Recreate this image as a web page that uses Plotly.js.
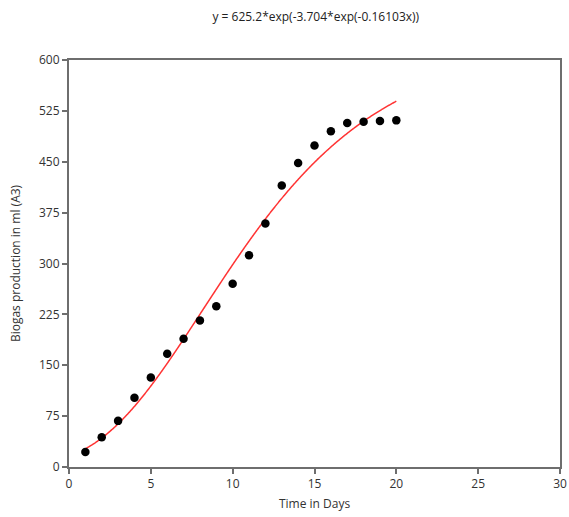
<!DOCTYPE html>
<html><head><meta charset="utf-8">
<script src="https://cdn.plot.ly/plotly-3.0.1.min.js"></script>
<style>html,body{margin:0;padding:0;background:#fff}</style>
</head><body>
<div id="chart" style="width:569px;height:517px"></div>
<script>
const days = [1,2,3,4,5,6,7,8,9,10,11,12,13,14,15,16,17,18,19,20];
const biogas = [22,44,68,102,132,167,189,216,237,270,312,359,415,448,474,495,507,509,510,511];
const fitA = 625.2, fitB = 3.704, fitC = 0.16103;
const fitX = [];
for (let i = 0; i <= 380; i++) fitX.push(1 + i*0.05);
const fitY = fitX.map(x => fitA*Math.exp(-fitB*Math.exp(-fitC*x)));
const xTicks = [0,5,10,15,20,25,30];
const yTicks = [0,75,150,225,300,375,450,525,600];

const font = {family:'"Open Sans", "Noto Sans", sans-serif', size:12, color:'#333'};
Plotly.newPlot('chart', [
  {x: fitX, y: fitY, mode:'lines', line:{color:'#ff3333', width:1.5, shape:'spline'}, hoverinfo:'skip'},
  {x: days, y: biogas, mode:'markers', marker:{color:'#000', size:8.5}}
], {
  width:569, height:517, showlegend:false,
  margin:{l:69, r:9, t:60, b:50},
  paper_bgcolor:'#fff', plot_bgcolor:'#fff', font: font,
  title:{text:'y = 625.2*exp(-3.704*exp(-0.16103x))', x:0.555, xanchor:'center', y:0.975, yanchor:'top', font:{family:font.family, size:12, color:'#222'}},
  xaxis:{range:[0,30], tickvals:xTicks, ticktext:xTicks.map(String), showgrid:false, zeroline:false,
    showline:true, linecolor:'#6e6e6e', linewidth:2, mirror:true, ticks:'outside', ticklen:5, tickwidth:2, tickcolor:'#6e6e6e',
    title:{text:'Time in Days', standoff:8, font:font}},
  yaxis:{range:[0,600], tickvals:yTicks, ticktext:yTicks.map(String), showgrid:false, zeroline:false,
    showline:true, linecolor:'#6e6e6e', linewidth:2, mirror:true, ticks:'outside', ticklen:5, tickwidth:2, tickcolor:'#6e6e6e',
    title:{text:'Biogas production in ml (A3)', standoff:16, font:font}}
}, {staticPlot:true});
</script>
</body></html>
